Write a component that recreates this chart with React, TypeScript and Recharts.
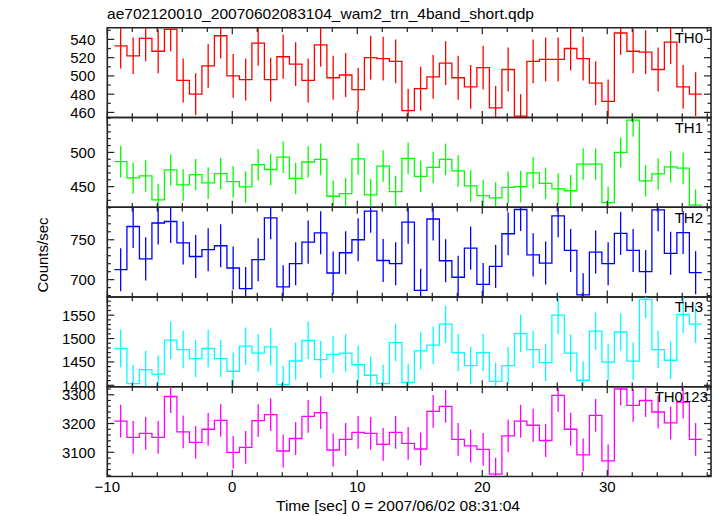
import React from 'react';
import { ComposedChart, Line, ErrorBar, XAxis, YAxis, ReferenceArea } from 'recharts';

const TITLE = 'ae702120010_20070602083104_wam2_trn_4band_short.qdp';
const X_LABEL = 'Time [sec] 0 = 2007/06/02 08:31:04';
const Y_LABEL = 'Counts/sec';

const BIN_START = -9.43;
const BIN_WIDTH = 1.0;
const X_DOMAIN = [-10, 38.3];
const X_TICKS = [-10, -8, -6, -4, -2, 0, 2, 4, 6, 8, 10, 12, 14, 16, 18, 20, 22, 24, 26, 28, 30, 32, 34, 36, 38];
const X_MAJOR = [-10, 0, 10, 20, 30];

const TH0 = [533, 522, 541, 527, 551, 495, 480, 511, 544, 500, 496, 536, 496, 521, 513, 495, 534, 498, 501, 485, 520, 519, 516, 462, 486, 499, 514, 498, 488, 509, 465, 507, 456, 516, 518, 518, 530, 519, 492, 472, 547, 527, 526, 507, 537, 488, 480];
const TH0_ERR = [25, 20, 25, 24, 24, 24, 23, 24, 25, 24, 23, 25, 24, 24, 24, 24, 24, 24, 24, 24, 24, 24, 24, 24, 24, 24, 24, 24, 24, 24, 24, 24, 24, 24, 24, 24, 24, 24, 24, 24, 24, 24, 24, 24, 24, 24, 24];
const TH1 = [486.5, 462.7, 465.6, 430.7, 474.4, 452.5, 467.5, 455.4, 469, 457.3, 449.6, 482, 475, 493, 462, 486, 489.8, 436, 439.9, 490.4, 438, 480, 442.8, 491.3, 465, 478, 489.8, 472.9, 451, 437, 433.6, 449, 450, 470, 454.9, 446.7, 444, 483, 483, 426.8, 500, 547, 458.3, 468.5, 479, 477, 423];
const TH1_ERR = [23, 23, 23, 23, 23, 23, 23, 23, 23, 23, 23, 23, 23, 23, 23, 23, 23, 23, 23, 23, 23, 23, 23, 23, 23, 23, 23, 23, 23, 23, 23, 23, 23, 23, 23, 23, 23, 23, 23, 23, 22, 24, 23, 23, 23, 23, 23];
const TH2 = [712.5, 766.6, 726, 771, 772.9, 746, 729, 737.5, 742.5, 714.6, 688.7, 725, 777.5, 691, 720, 747, 758.7, 708.3, 733.7, 750, 785.8, 724, 720, 772, 686.6, 776, 723.7, 703, 739.5, 694, 716.6, 757.5, 787.9, 731, 720.8, 780, 736.6, 681, 734.6, 720, 758, 736.6, 710, 787.5, 733, 759, 708.7];
const TH2_ERR = [27, 27, 27, 27, 27, 27, 27, 27, 27, 27, 27, 27, 27, 27, 27, 27, 27, 27, 27, 27, 27, 27, 27, 27, 27, 27, 27, 27, 27, 27, 27, 27, 27, 27, 27, 27, 27, 27, 27, 27, 27, 27, 27, 27, 27, 27, 27];
const TH3 = [1478.7, 1403.7, 1433.7, 1423.7, 1496.5, 1476.5, 1457, 1478.7, 1457, 1430, 1483.6, 1469, 1482, 1401.6, 1452, 1495.8, 1455, 1466, 1469, 1444, 1421.5, 1403.7, 1491.5, 1406, 1473.6, 1485.8, 1530.7, 1470, 1442, 1470, 1408.6, 1442, 1510.8, 1476.5, 1448.7, 1550, 1469, 1410.8, 1515.7, 1449.4, 1514, 1451.5, 1583.6, 1476.5, 1453.6, 1551.5, 1530.7];
const TH3_ERR = [40, 40, 40, 40, 40, 40, 40, 40, 40, 40, 40, 40, 40, 40, 40, 40, 40, 40, 40, 40, 40, 40, 40, 40, 40, 40, 40, 40, 40, 40, 40, 40, 40, 40, 40, 40, 40, 40, 40, 40, 40, 40, 40, 40, 40, 40, 40];
const TH0123 = [3208, 3151.7, 3165.5, 3151.7, 3294, 3171, 3134.5, 3180, 3211, 3100, 3117, 3210, 3231, 3104.5, 3148, 3225, 3238, 3108, 3145, 3169, 3165.5, 3127.6, 3169, 3131, 3111.4, 3242.4, 3259.7, 3145, 3122, 3110, 3024, 3157, 3208, 3194, 3141, 3297.6, 3180, 3090.7, 3228.6, 3070, 3320, 3263, 3280, 3240, 3202, 3274.5, 3145];
const TH0123_ERR = [57, 57, 57, 57, 57, 57, 57, 57, 57, 57, 57, 57, 57, 57, 57, 57, 57, 57, 57, 57, 57, 57, 57, 57, 57, 57, 57, 57, 57, 57, 57, 57, 57, 57, 57, 57, 57, 57, 57, 57, 57, 57, 57, 57, 57, 57, 57];

const TH0_TICKS = [460, 470, 480, 490, 500, 510, 520, 530, 540, 550];
const TH0_MAJOR = [460, 480, 500, 520, 540];
const TH1_TICKS = [420, 430, 440, 450, 460, 470, 480, 490, 500, 510, 520, 530, 540, 550];
const TH1_MAJOR = [450, 500];
const TH2_TICKS = [680, 690, 700, 710, 720, 730, 740, 750, 760, 770, 780, 790];
const TH2_MAJOR = [700, 750];
const TH3_TICKS = [1400, 1410, 1420, 1430, 1440, 1450, 1460, 1470, 1480, 1490, 1500, 1510, 1520, 1530, 1540, 1550, 1560, 1570, 1580];
const TH3_MAJOR = [1400, 1450, 1500, 1550];
const TH0123_TICKS = [3020, 3040, 3060, 3080, 3100, 3120, 3140, 3160, 3180, 3200, 3220, 3240, 3260, 3280, 3300, 3320];
const TH0123_MAJOR = [3100, 3200, 3300];

const W = 717;
const H = 516;
const PLOT_LEFT = 107.3;
const PLOT_RIGHT = 711;
const PLOT_W = PLOT_RIGHT - PLOT_LEFT;
const PANEL_TOP = 27.7;
const PANEL_H = 89.75;
const FONT = '"Liberation Sans", Arial, Helvetica, sans-serif';

const panels = [
  { name: 'TH0', values: TH0, errs: TH0_ERR, color: '#ff0000', domain: [454.5, 552.8], ticks: TH0_TICKS, majors: TH0_MAJOR, labelX: 703 },
  { name: 'TH1', values: TH1, errs: TH1_ERR, color: '#00ff00', domain: [420, 551], ticks: TH1_TICKS, majors: TH1_MAJOR, labelX: 703 },
  { name: 'TH2', values: TH2, errs: TH2_ERR, color: '#0000ff', domain: [678.3, 790.8], ticks: TH2_TICKS, majors: TH2_MAJOR, labelX: 703 },
  { name: 'TH3', values: TH3, errs: TH3_ERR, color: '#00ffff', domain: [1397, 1589], ticks: TH3_TICKS, majors: TH3_MAJOR, labelX: 703 },
  { name: 'TH0123', values: TH0123, errs: TH0123_ERR, color: '#ff00ff', domain: [3016, 3328], ticks: TH0123_TICKS, majors: TH0123_MAJOR, labelX: 708 },
];

function stepData(values: number[]) {
  const pts = values.map((v, i) => ({ x: BIN_START + i * BIN_WIDTH, y: v }));
  pts.push({ x: BIN_START + values.length * BIN_WIDTH, y: values[values.length - 1] });
  return pts;
}
// error bars are clipped to the panel's y-range (as in the original plot)
function centerData(values: number[], errs: number[], domain: number[]) {
  return values.map((v, i) => ({
    x: BIN_START + (i + 0.5) * BIN_WIDTH,
    y: v,
    e: [Math.max(0, Math.min(errs[i], v - domain[0])), Math.max(0, Math.min(errs[i], domain[1] - v))],
  }));
}

const makeYTick = (majors: number[]) => (p: any) => {
  const { x, y, payload } = p;
  const v = payload.value;
  const isMajor = majors.includes(v);
  const len = isMajor ? 7 : 3.5;
  return (
    <g>
      <line x1={x} x2={x + len} y1={y} y2={y} stroke="#222" strokeWidth={1.2} />
      <line x1={x + PLOT_W - len} x2={x + PLOT_W} y1={y} y2={y} stroke="#222" strokeWidth={1.2} />
      {isMajor && (
        <text x={x - 12} y={y} dy="0.36em" textAnchor="end" fontSize={15} fontFamily={FONT} fill="#000">
          {v}
        </text>
      )}
    </g>
  );
};

const makeXTick = (showLabel: boolean) => (p: any) => {
  const { x, y, payload } = p;
  const v = payload.value;
  const isMajor = X_MAJOR.includes(v);
  const len = isMajor ? 6.5 : 4.3;
  return (
    <g>
      <line x1={x} x2={x} y1={y} y2={y - len} stroke="#222" strokeWidth={1.2} />
      <line x1={x} x2={x} y1={y - PANEL_H} y2={y - PANEL_H + len} stroke="#222" strokeWidth={1.2} />
      {showLabel && isMajor && (
        <text x={x} y={y + 15.5} textAnchor="middle" fontSize={15} fontFamily={FONT} fill="#000">
          {v < 0 ? '\u2212' + Math.abs(v) : v}
        </text>
      )}
    </g>
  );
};

function Panel({ cfg, index }: { cfg: any; index: number }) {
  const top = PANEL_TOP + index * PANEL_H;
  const bottom = H - (top + PANEL_H) - 1;
  const isLast = index === panels.length - 1;
  return (
    <div style={{ position: 'absolute', left: 0, top: 0 }}>
      <ComposedChart width={W} height={H} margin={{ top, bottom, left: PLOT_LEFT - 1, right: W - PLOT_RIGHT }}>
        <XAxis
          type="number"
          dataKey="x"
          domain={X_DOMAIN}
          allowDataOverflow
          ticks={X_TICKS}
          interval={0}
          height={1}
          tickSize={0}
          tickMargin={0}
          tickLine={false}
          axisLine={false}
          tick={makeXTick(isLast)}
        />
        <YAxis
          type="number"
          domain={cfg.domain}
          allowDataOverflow
          ticks={cfg.ticks}
          interval={0}
          width={1}
          tickSize={0}
          tickMargin={0}
          tickLine={false}
          axisLine={false}
          tick={makeYTick(cfg.majors)}
        />
        <Line
          data={stepData(cfg.values)}
          dataKey="y"
          type="stepAfter"
          stroke={cfg.color}
          strokeWidth={1.3}
          dot={false}
          activeDot={false}
          isAnimationActive={false}
        />
        <Line
          data={centerData(cfg.values, cfg.errs, cfg.domain)}
          dataKey="y"
          stroke="none"
          strokeWidth={0}
          dot={false}
          activeDot={false}
          isAnimationActive={false}
        >
          <ErrorBar dataKey="e" direction="y" width={0} stroke={cfg.color} strokeWidth={1.3} isAnimationActive={false} />
        </Line>
        <ReferenceArea
          x1={X_DOMAIN[0]}
          x2={X_DOMAIN[1]}
          y1={cfg.domain[0]}
          y2={cfg.domain[1]}
          fill="none"
          fillOpacity={0}
          stroke="#222"
          strokeWidth={1.6}
          ifOverflow="visible"
        />
      </ComposedChart>
    </div>
  );
}

export default function App() {
  return (
    <div style={{ position: 'relative', width: W, height: H, background: '#fff', overflow: 'hidden' }}>
      <style>{'body{margin:0;background:#fff}'}</style>
      {panels.map((p, i) => (
        <Panel key={p.name} cfg={p} index={i} />
      ))}
      <svg width={W} height={H} style={{ position: 'absolute', left: 0, top: 0, pointerEvents: 'none' }}>
        <text x={107} y={19} fontSize={15} fontFamily={FONT} fill="#000" textLength={427} lengthAdjust="spacingAndGlyphs">
          {TITLE}
        </text>
        {panels.map((p, i) => (
          <text
            key={p.name}
            x={p.labelX}
            y={PANEL_TOP + i * PANEL_H + 15.5}
            textAnchor="end"
            fontSize={15}
            fontFamily={FONT}
            fill="#000"
          >
            {p.name}
          </text>
        ))}
        <text x={276} y={511} fontSize={15} fontFamily={FONT} fill="#000" textLength={244} lengthAdjust="spacingAndGlyphs">
          {X_LABEL}
        </text>
        <text
          x={0}
          y={0}
          transform={`translate(47.5, 255) rotate(-90)`}
          textAnchor="middle"
          fontSize={15}
          fontFamily={FONT}
          fill="#000"
        >
          {Y_LABEL}
        </text>
      </svg>
    </div>
  );
}
